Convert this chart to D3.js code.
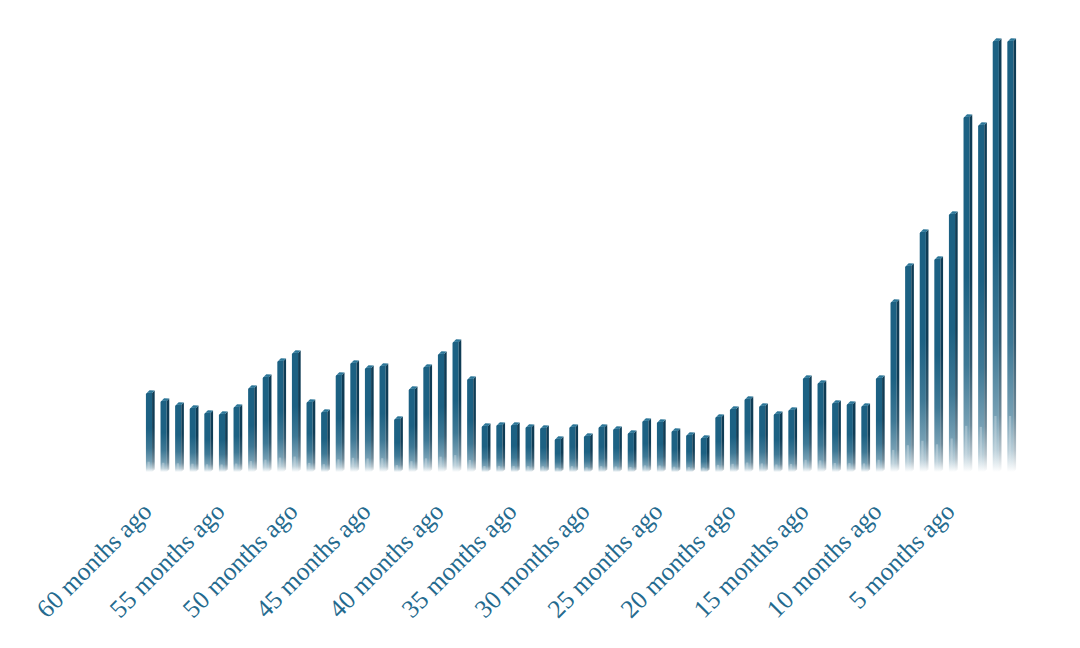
<!DOCTYPE html>
<html>
<head>
<meta charset="utf-8">
<script src="https://cdn.jsdelivr.net/npm/d3@7"></script>
<style>
  html, body { margin: 0; padding: 0; background: #ffffff; }
  svg { display: block; }
</style>
</head>
<body>
<script>
// ---- data ----
const categories = d3.range(60, 0, -1).map(m => m + " months ago");
const values = [
  79, 71, 67, 64, 59, 58, 65, 84, 95, 111,
  119, 70, 60, 97, 109, 104, 106, 53, 83, 105,
  118, 130, 93, 46, 47, 47, 45, 44, 33, 45,
  36, 45, 43, 39, 51, 50, 41, 37, 34, 55,
  63, 73, 66, 58, 62, 94, 89, 69, 68, 66,
  94, 170, 206, 240, 213, 258, 355, 347, 431, 431
];
const tickLabels = d3.range(60, 0, -5).map(m => m + " months ago");

// ---- layout ----
const W = 1080, H = 648;
const svg = d3.select("body").append("svg").attr("width", W).attr("height", H);

const x = d3.scaleBand().domain(categories).range([143, 1019]).paddingInner(0.4).paddingOuter(0.2);
const y = d3.scaleLinear().domain([0, 431]).range([472, 41]);

const defs = svg.append("defs");
function fadeGrad(id, color, stops) {
  const g = defs.append("linearGradient").attr("id", id)
    .attr("x1", 0).attr("x2", 0).attr("y1", 0).attr("y2", 1);
  stops.forEach(([o, a]) =>
    g.append("stop").attr("offset", o).attr("stop-color", color).attr("stop-opacity", a));
}
const faceStops = [[0, 1], [0.45, 1], [0.7, 0.85], [0.87, 0.6], [0.95, 0.3], [1, 0]];
fadeGrad("gFront", "#1c6183", faceStops);
fadeGrad("gSide", "#0f3c55", faceStops);
fadeGrad("gHi", "#ffffff", [[0, 0.28], [0.6, 0.15], [1, 0]]);

const side = 2.6, lift = 2.5;
const fw = x.bandwidth() - side;

const bars = svg.append("g").selectAll("g").data(values).join("g")
  .attr("transform", (d, i) => `translate(${x(categories[i])},0)`);

// front face
bars.append("path")
  .attr("d", d => {
    const t = y(d), b = y(0);
    return `M0,${b} L0,${t + 1.5} Q0,${t} 1.5,${t - 0.3} L${fw},${t} L${fw},${b} Z`;
  })
  .attr("fill", "url(#gFront)");
// side face
bars.append("path")
  .attr("d", d => {
    const t = y(d), b = y(0);
    return `M${fw},${b} L${fw},${t} L${fw + side},${t - lift} L${fw + side},${b - lift} Z`;
  })
  .attr("fill", "url(#gSide)");
// top cap
bars.append("path")
  .attr("d", d => {
    const t = y(d);
    return `M1,${t - 0.3} L${side + 1},${t - lift - 0.3} L${fw + side},${t - lift} L${fw},${t} Z`;
  })
  .attr("fill", "#2c7698");
// reflection streak on the bottom part of each bar
bars.append("rect")
  .attr("x", 1.6).attr("width", 2.2)
  .attr("y", d => y(0) - 0.13 * (y(0) - y(d)))
  .attr("height", d => 0.13 * (y(0) - y(d)))
  .attr("fill", "url(#gHi)");

// ---- axis labels ----
const axis = d3.axisBottom(x).tickValues(tickLabels).tickSize(0).tickPadding(0);
const ax = svg.append("g").call(axis);
ax.select(".domain").remove();
ax.selectAll(".tick").attr("transform", d => `translate(${x(d) + x.bandwidth() / 2},0)`);
ax.selectAll("text")
  .attr("x", 0).attr("y", 0).attr("dy", 0)
  .attr("font-family", "'Liberation Serif', 'Times New Roman', Times, serif")
  .attr("font-size", 25.5)
  .attr("fill", "#246a8e")
  .attr("text-anchor", "end")
  .attr("transform", "translate(3,513) rotate(-45)");
</script>
</body>
</html>
